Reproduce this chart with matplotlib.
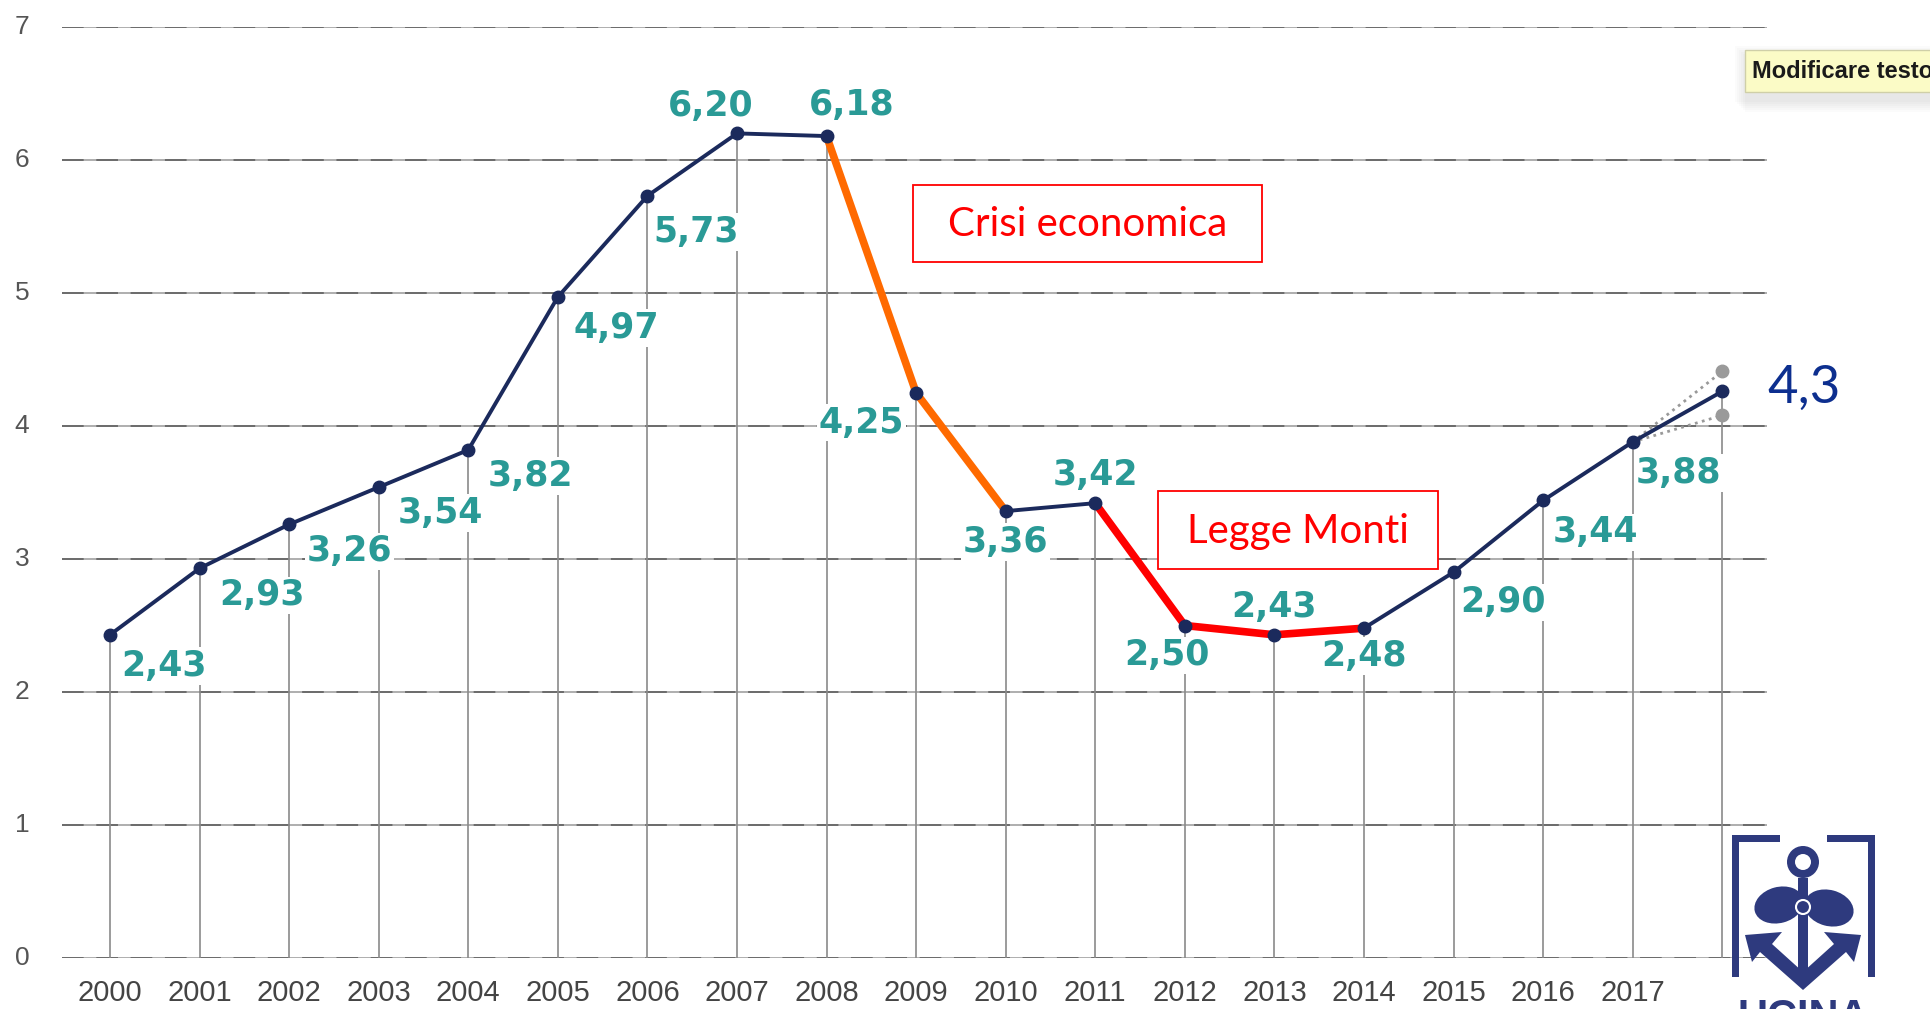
import numpy as np
import matplotlib.pyplot as plt
from matplotlib.patches import Rectangle, Circle, Ellipse, Polygon

# data
years = list(range(2000, 2019))
values = [2.43, 2.93, 3.26, 3.54, 3.82, 4.97, 5.73, 6.20, 6.18, 4.25,
          3.36, 3.42, 2.50, 2.43, 2.48, 2.90, 3.44, 3.88, 4.26]
forecast_label = "4,3"
forecast_high = 4.41
forecast_low = 4.08
x_labels = [str(y) for y in range(2000, 2018)]
y_ticks = [0, 1, 2, 3, 4, 5, 6, 7]
crisis_years = [2008, 2009, 2010]
monti_years = [2011, 2012, 2013, 2014]

# styles
navy = '#1b2a5c'
teal = '#2a9a96'
grid_c = '#8a8a8a'
lbl_off = [(54, -31), (62, -27), (60, -27), (62, -26), (62, -26), (58, -31),
           (49, -36), (-26, 27), (25, 31), (-55, -30), (0, -31), (0, 28),
           (-18, -30), (0, 28), (0, -28), (49, -30), (52, -32), (46, -31)]

W, H = 1931, 1009
fig = plt.figure(figsize=(W / 100, H / 100), dpi=100)
fig.patch.set_facecolor('white')

ax = fig.add_axes([62 / W, (H - 958) / H, (1767 - 62) / W, (958 - 27) / H])
ax.set_xlim(1999.464, 2018.50)
ax.set_ylim(0, 7)
ax.axis('off')

# horizontal grid
for t in y_ticks:
    ax.axhline(t, color='#a8a8a8', lw=1.3, zorder=1)
    ax.axhline(t, color='#666666', lw=1.3, dashes=(12, 7), zorder=1)
    ax.text(1999.464 - 40 / 89.6, t, str(t), ha='center', va='center',
            fontsize=19, color='#555555', family='Liberation Sans')

# vertical lines
for yr, v in zip(years, values):
    ax.plot([yr, yr], [0, v], color=grid_c, lw=1.2, zorder=1)
for yr in x_labels:
    ax.text(int(yr), -0.265, yr, ha='center', va='center', fontsize=21,
            color='#444444', family='Liberation Sans')

# forecast dotted lines
for fv in (forecast_high, forecast_low):
    ax.plot([years[-2], years[-1]], [values[-2], fv], color='#999999', lw=2,
            ls=(0, (1, 1.6)), zorder=3, clip_on=False)
    ax.plot(years[-1], fv, 'o', color='#9a9a9a', ms=9, zorder=3, clip_on=False)

# main line
ax.plot(years, values, color=navy, lw=2.8, zorder=4, clip_on=False)
ci = [years.index(y) for y in crisis_years]
mi = [years.index(y) for y in monti_years]
ax.plot(crisis_years, [values[i] for i in ci], color='#ff6a00', lw=5.5,
        zorder=5, solid_capstyle='butt')
ax.plot(monti_years, [values[i] for i in mi], color='#ff0000', lw=5.5,
        zorder=5, solid_capstyle='butt')
ax.plot(years, values, 'o', color=navy, ms=9, zorder=6, clip_on=False)

# data labels
for yr, v, off in zip(years[:-1], values[:-1], lbl_off):
    ax.annotate(f"{v:.2f}".replace('.', ','), (yr, v), xytext=off,
                textcoords='offset pixels', ha='center', va='center',
                fontsize=25, fontweight='bold', color=teal,
                family='DejaVu Sans', zorder=7,
                bbox=dict(boxstyle='square,pad=0.05', fc='white', ec='none'))
ax.annotate(forecast_label, (years[-1], values[-1]), xytext=(82, 3),
            textcoords='offset pixels', ha='center', va='center',
            fontsize=38, color='#0d2f8f', family='Lato', zorder=7)

# annotation boxes
ov = fig.add_axes([0, 0, 1, 1], zorder=10)
ov.set_xlim(0, W)
ov.set_ylim(H, 0)
ov.axis('off')
ov.patch.set_alpha(0)

for (x0, y0, x1, y1, txt) in [(913, 185, 1262, 262, "Crisi economica"),
                              (1158, 491, 1438, 569, "Legge Monti")]:
    ov.add_patch(Rectangle((x0, y0), x1 - x0, y1 - y0, fc='white', ec='#ff0000', lw=1.3))
    ov.text((x0 + x1) / 2, (y0 + y1) / 2 + 1, txt, ha='center', va='center',
            fontsize=29, color='#ff0000', family='Lato')

# tooltip
for k in range(6):
    ov.add_patch(Rectangle((1745 - 10 + k * 2, 50 - 4 + k * 2), 260, 56,
                           fc='#000000', ec='none', alpha=0.015))
ov.add_patch(Rectangle((1745, 50), 260, 42, fc='#fbfbc6', ec='#cfcfa8', lw=1))
ov.text(1752, 72, "Modificare testo", ha='left', va='center', fontsize=17,
        color='#1a1a1a', family='Liberation Sans', fontweight='bold', clip_on=True)

# logo
lc = '#2e3a7e'
fr = 7
ov.add_patch(Rectangle((1732, 835), fr, 142, fc=lc, ec='none'))
ov.add_patch(Rectangle((1868, 835), fr, 142, fc=lc, ec='none'))
ov.add_patch(Rectangle((1732, 835), 48, fr, fc=lc, ec='none'))
ov.add_patch(Rectangle((1827, 835), 48, fr, fc=lc, ec='none'))
ov.add_patch(Circle((1803, 862), 16, fc=lc, ec='none'))
ov.add_patch(Circle((1803, 862), 8, fc='white', ec='none'))
ov.add_patch(Rectangle((1798, 878), 10, 100, fc=lc, ec='none'))
ov.add_patch(Ellipse((1779, 905), 50, 36, angle=-15, fc=lc, ec='none'))
ov.add_patch(Ellipse((1829, 908), 50, 36, angle=15, fc=lc, ec='none'))
ov.add_patch(Circle((1803, 907), 7, fc=lc, ec='white', lw=1.5))
ov.add_patch(Polygon([(1745, 935), (1782, 932), (1772, 944), (1803, 972),
                      (1834, 944), (1824, 932), (1861, 935), (1854, 962),
                      (1846, 952), (1803, 990), (1760, 952), (1752, 962)],
                     closed=True, fc=lc, ec='none'))
ov.text(1803, 998, "UCINA", ha='center', va='top', fontsize=30,
        fontweight='bold', color=lc, family='Liberation Sans')

fig.savefig('out.png', dpi=100)
